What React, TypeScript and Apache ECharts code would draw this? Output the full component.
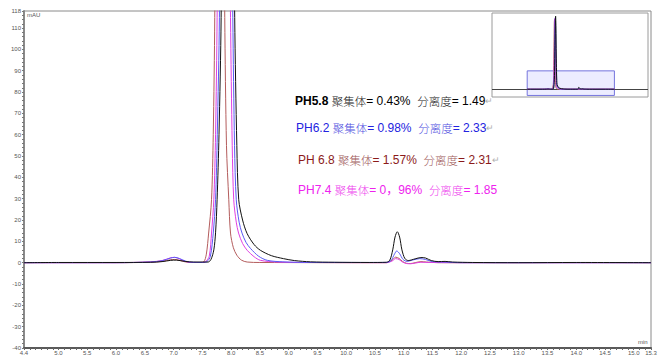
import React, { useEffect, useRef } from "react";
import * as echarts from "echarts";

const X_MIN = 4.4;
const X_MAX = 15.3;
const Y_MIN = -40;
const Y_MAX = 118;
const X_LABELS = [4.4, 5.0, 5.5, 6.0, 6.5, 7.0, 7.5, 8.0, 8.5, 9.0, 9.5, 10.0, 10.5, 11.0, 11.5, 12.0, 12.5, 13.0, 13.5, 14.0, 14.5, 15.0, 15.3];
const Y_LABELS = [-40, -30, -20, -10, 0, 10, 20, 30, 40, 50, 60, 70, 80, 90, 100, 110, 118];
const INSET_X = [0, 19.5];
const INSET_Y = [-50, 490];

// pH 5.8 (black)
const PH58: [number, number][] = [
  [4.4, 0], [5.0, 0.1], [6.0, 0.1], [6.6, 0.2], [6.8, 0.5], [6.95, 1.1], [7.05, 1.2], [7.2, 0.6], [7.35, 0.3], [7.5, 0.3],
  [7.6, 0.3], [7.65, 1.5], [7.7, 6], [7.73, 14], [7.757, 29.5], [7.79, 60], [7.827, 115], [7.87, 280], [7.92, 440], [7.95, 470],
  [7.99, 400], [8.03, 220], [8.063, 115], [8.1, 55], [8.133, 29.5], [8.2, 20], [8.278, 13.7], [8.4, 8.5], [8.51, 5.8], [8.7, 3.3],
  [8.91, 1.9], [9.1, 1.0], [9.38, 0.4], [9.8, 0.2], [10.4, 0.1], [10.7, 0.2], [10.76, 1.2], [10.81, 6], [10.85, 12], [10.89, 14.5],
  [10.93, 12], [10.97, 6], [11.02, 2], [11.08, 1], [11.2, 1.8], [11.3, 2.4], [11.38, 2.2], [11.48, 1], [11.6, 0.5], [11.72, 0.6],
  [11.85, 0.3], [12.2, 0.1], [13.0, 0], [14.0, 0.1], [15.3, 0],
];
// pH 6.2 (blue)
const PH62: [number, number][] = [
  [4.4, 0], [6.0, 0], [6.6, 0.3], [6.8, 0.9], [6.95, 2.2], [7.02, 2.5], [7.1, 2.0], [7.2, 0.8], [7.3, 0.2], [7.5, 0.1],
  [7.58, 0.5], [7.64, 3], [7.69, 13.9], [7.73, 29.5], [7.76, 60], [7.797, 115], [7.84, 280], [7.89, 440], [7.92, 460], [7.96, 380],
  [8.0, 200], [8.03, 115], [8.06, 55], [8.09, 29.5], [8.14, 19], [8.19, 13.9], [8.26, 9.5], [8.34, 6.6], [8.48, 3], [8.63, 1.1],
  [8.9, 0.4], [9.4, 0.1], [10.7, 0.1], [10.78, 1], [10.84, 4], [10.88, 5.5], [10.93, 4.2], [10.99, 1.5], [11.06, 0.6], [11.15, 1.2],
  [11.28, 1.9], [11.38, 1.5], [11.5, 0.5], [11.7, 0.3], [12.0, 0], [15.3, 0],
];
// pH 6.8 (brown)
const PH68: [number, number][] = [
  [4.4, 0], [6.0, 0], [6.6, 0.2], [6.8, 0.6], [6.95, 1.4], [7.02, 1.5], [7.1, 1.1], [7.2, 0.4], [7.3, 0.1], [7.45, 0.1],
  [7.525, 0.4], [7.57, 4], [7.61, 13.9], [7.66, 29.5], [7.69, 60], [7.716, 115], [7.75, 270], [7.79, 430], [7.82, 450], [7.85, 330],
  [7.87, 200], [7.89, 115], [7.92, 55], [7.96, 29.5], [7.99, 13.9], [8.04, 7], [8.1, 3.5], [8.18, 1.2], [8.28, 0.3], [8.5, 0.1],
  [10.7, 0], [10.8, 1.2], [10.86, 2.6], [10.92, 2.0], [10.98, 0.6], [11.05, -0.3], [11.12, -0.4], [11.2, 0], [11.3, 0.5], [11.4, 0.3],
  [11.6, 0], [15.3, 0],
];
// pH 7.4 (magenta)
const PH74: [number, number][] = [
  [4.4, 0], [6.0, 0], [6.6, 0.4], [6.8, 1.0], [6.95, 2.3], [7.02, 2.5], [7.1, 1.8], [7.2, 0.6], [7.3, 0.1], [7.5, 0.1],
  [7.555, 0.5], [7.62, 3], [7.66, 13.9], [7.7, 29.5], [7.73, 60], [7.757, 115], [7.8, 280], [7.85, 440], [7.88, 455], [7.92, 380],
  [7.96, 200], [7.99, 115], [8.02, 55], [8.046, 29.5], [8.09, 19], [8.13, 13.9], [8.2, 9], [8.28, 5.8], [8.4, 2.8], [8.51, 1.1],
  [8.8, 0.3], [9.3, 0.1], [10.7, 0], [10.8, 0.8], [10.86, 1.9], [10.92, 1.5], [10.98, 0.3], [11.05, -0.4], [11.12, -0.5], [11.2, -0.2],
  [11.3, 0.2], [11.45, 0.1], [12.0, 0], [15.3, 0],
];

const SERIES_DATA = [PH68, PH74, PH62, PH58];
const SERIES_NAMES = ["PH6.8", "PH7.4", "PH6.2", "PH5.8"];
const LINE_COLORS = ["#b35c5c", "#e040e0", "#5a5af5", "#111111"];

const LABEL_PH = ["PH5.8", "PH6.2", "PH 6.8", "PH7.4"];
const AGG_VALUES = ["0.43%", "0.98%", "1.57%", "0，96%"];
const RES_VALUES = ["1.49", "2.33", "2.31", "1.85"];
const TEXT_COLORS = ["#000000", "#2323e0", "#8b1a1a", "#ee22ee"];
const CJK_COLORS = ["#222222", "#5050e0", "#a05a5a", "#ee44ee"];
const HAS_MARK = [true, true, true, false];

const FONT = '"Liberation Sans", Arial, "Noto Sans CJK SC", sans-serif';
const CJK_FONT = '"Noto Sans CJK SC", sans-serif';

const TEXT_POS = [
  [295, 101],
  [296, 128],
  [298, 160],
  [298, 189.5],
];

export default function App() {
  const ref = useRef<HTMLDivElement>(null);
  useEffect(() => {
    if (!ref.current) return;
    const chart = echarts.init(ref.current, undefined, { renderer: "svg" });

    const xTicks: number[] = [];
    for (let i = 44; i <= 153; i++) xTicks.push(i / 10);
    const yTicks: number[] = [];
    for (let v = -40; v <= 118; v += 2) yTicks.push(v);

    const mainSeries = SERIES_DATA.map((d, i) => ({
      type: "line",
      name: SERIES_NAMES[i],
      data: d,
      xAxisIndex: 0,
      yAxisIndex: 0,
      symbol: "none",
      smooth: 0.3,
      lineStyle: { color: LINE_COLORS[i], width: 1 },
      z: 3 + i,
    }));
    const insetSeries = SERIES_DATA.map((d, i) => ({
      type: "line",
      name: SERIES_NAMES[i] + "-inset",
      data: d,
      xAxisIndex: 1,
      yAxisIndex: 1,
      symbol: "none",
      smooth: 0.3,
      lineStyle: { color: LINE_COLORS[i], width: 1 },
      z: 13 + i,
      ...(i === 0
        ? {
            markLine: {
              silent: true,
              z: 12,
              symbol: "none",
              label: { show: false },
              lineStyle: { color: "#444", width: 1, type: "solid" },
              data: [{ yAxis: 0 }],
            },
            markArea: {
              silent: true,
              z: 11,
              itemStyle: { color: "rgba(170,170,255,0.22)", borderColor: "#7474dd", borderWidth: 1 },
              data: [[{ xAxis: X_MIN, yAxis: Y_MIN }, { xAxis: X_MAX, yAxis: Y_MAX }]],
            },
          }
        : {}),
    }));

    const texts = LABEL_PH.map((ph, i) => ({
      type: "text",
      x: TEXT_POS[i][0],
      y: TEXT_POS[i][1],
      z: 50,
      style: {
        text:
          `{p|${ph}} {c|聚集体}= ${AGG_VALUES[i]}  {c|分离度}= ${RES_VALUES[i]}` + (HAS_MARK[i] ? "{r|↵}" : ""),
        fill: TEXT_COLORS[i],
        font: `12px ${FONT}`,
        verticalAlign: "middle",
        rich: {
          p: { fontFamily: FONT, fontSize: 12, fontWeight: i === 0 ? "bold" : "normal", fill: TEXT_COLORS[i] },
          c: { fontFamily: CJK_FONT, fontSize: 11.5, fontWeight: 300, fill: CJK_COLORS[i] },
          r: { fontFamily: FONT, fontSize: 9, fill: "#b0b0b0" },
        },
      },
    }));

    chart.setOption({
      animation: false,
      backgroundColor: "#ffffff",
      grid: [
        { left: 24, top: 11, right: 10, bottom: 10, show: true, borderColor: "#8a8a8a", borderWidth: 1 },
        { left: 492, top: 13, width: 156, height: 84, show: true, backgroundColor: "#ffffff", borderColor: "#9a9a9a", borderWidth: 1, z: 10 },
      ],
      xAxis: [
        {
          type: "value",
          gridIndex: 0,
          min: X_MIN,
          max: X_MAX,
          splitLine: { show: false },
          axisLine: { show: true, onZero: false, lineStyle: { color: "#5a5a5a", width: 2 } },
          axisTick: { show: true, customValues: xTicks, length: 2, lineStyle: { color: "#666" } },
          axisLabel: {
            customValues: X_LABELS,
            formatter: (v: number) => v.toFixed(1),
            fontSize: 6,
            color: "#555",
            margin: 2,
            fontFamily: FONT,
          },
        },
        { type: "value", gridIndex: 1, min: INSET_X[0], max: INSET_X[1], show: false },
      ],
      yAxis: [
        {
          type: "value",
          gridIndex: 0,
          min: Y_MIN,
          max: Y_MAX,
          splitLine: { show: false },
          axisLine: { show: true, onZero: false, lineStyle: { color: "#8a8a8a", width: 2 } },
          axisTick: { show: true, customValues: yTicks, length: 2, lineStyle: { color: "#777" } },
          axisLabel: {
            customValues: Y_LABELS,
            formatter: (v: number) => String(Math.round(v)),
            fontSize: 6,
            color: "#555",
            margin: 3,
            fontFamily: FONT,
          },
        },
        { type: "value", gridIndex: 1, min: INSET_Y[0], max: INSET_Y[1], show: false },
      ],
      series: [...mainSeries, ...insetSeries],
      graphic: [
        ...texts,
        { type: "text", x: 27, y: 15, z: 50, style: { text: "mAU", fill: "#555", font: `6px ${FONT}`, verticalAlign: "middle" } },
        { type: "text", x: 638, y: 342, z: 50, style: { text: "min", fill: "#555", font: `6px ${FONT}`, verticalAlign: "middle" } },
      ],
    });
    return () => chart.dispose();
  }, []);
  return <div ref={ref} style={{ position: "absolute", left: 0, top: 0, width: 661, height: 358 }} />;
}
